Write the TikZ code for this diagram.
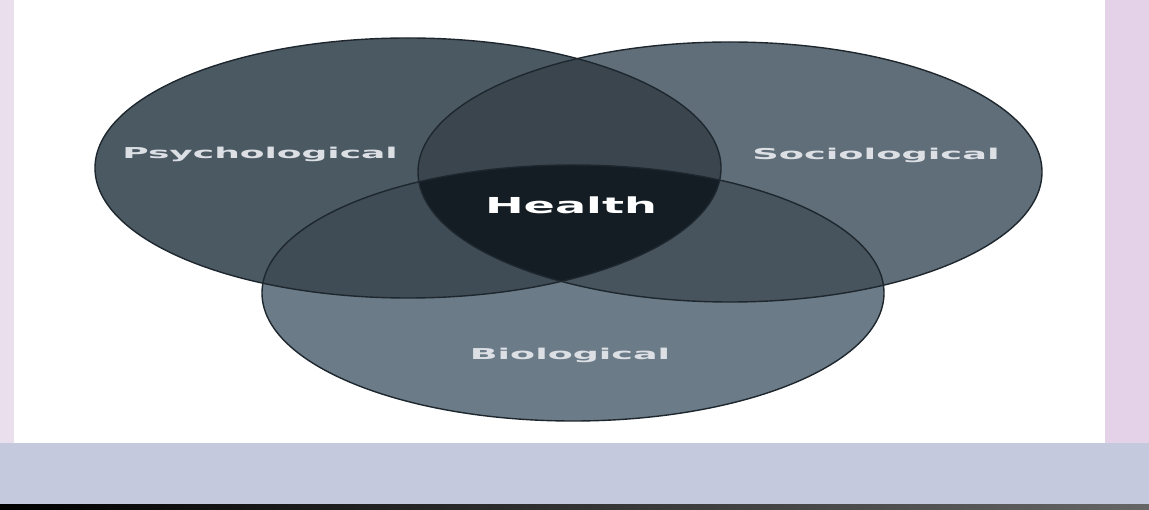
\documentclass[tikz,border=0pt]{standalone}
\usepackage{fontspec}
\setmainfont{DejaVu Sans}
\usepackage{graphicx}
\definecolor{pcol}{HTML}{4B5963}
\definecolor{scol}{HTML}{5F6E79}
\definecolor{bcol}{HTML}{6B7B87}
\definecolor{pscol}{HTML}{3A454E}
\definecolor{pbcol}{HTML}{3F4B55}
\definecolor{sbcol}{HTML}{47535D}
\definecolor{allcol}{HTML}{141D23}
\definecolor{edgecol}{HTML}{1E272E}
\definecolor{txtcol}{HTML}{DCE0E5}
\definecolor{lavright}{HTML}{E4D3E8}
\definecolor{lavleft}{HTML}{EADFEC}
\definecolor{bandcol}{HTML}{C5C9DD}
\tikzset{
  lbl/.style={text=txtcol, font=\bfseries\fontsize{15}{18}\selectfont, inner sep=0pt},
  ring/.style={draw=edgecol, line width=1.4pt}
}
\newcommand\shapeP{(408,168) ellipse [x radius=313, y radius=130]}
\newcommand\shapeS{(730,172) ellipse [x radius=312, y radius=130]}
\newcommand\shapeB{(573,293) ellipse [x radius=311, y radius=128]}
\begin{document}
\begin{tikzpicture}[x=1pt,y=-1pt]
\useasboundingbox (0,0) rectangle (1149,510);
% background frame
\fill[lavright] (0,0) rectangle (1149,510);
\fill[lavleft] (0,0) rectangle (14,443);
\fill[bandcol] (0,443) rectangle (1149,504);
\shade[left color=black, right color=black!60] (0,504) rectangle (1149,510);
\fill[white] (14,0) rectangle (1105,443);
% single sets
\fill[pcol] \shapeP;
\fill[scol] \shapeS;
\fill[bcol] \shapeB;
% pairwise overlaps
\begin{scope}\clip \shapeP; \fill[pscol] \shapeS; \end{scope}
\begin{scope}\clip \shapeP; \fill[pbcol] \shapeB; \end{scope}
\begin{scope}\clip \shapeS; \fill[sbcol] \shapeB; \end{scope}
% triple overlap
\begin{scope}\clip \shapeP; \clip \shapeS; \fill[allcol] \shapeB; \end{scope}
% outlines
\draw[ring] \shapeP;
\draw[ring] \shapeS;
\draw[ring] \shapeB;
% labels
\node[lbl] (psy) at (260,154) {\scalebox{2.4}[1]{Psychological}};
\node[lbl] (soc) at (876,155) {\scalebox{2.45}[1]{Sociological}};
\node[lbl] (bio) at (570,355) {\scalebox{2.43}[1]{Biological}};
\node[lbl, font=\bfseries\fontsize{22}{26}\selectfont, text=white] (hea) at (571,205) {\scalebox{2.1}[1]{Health}};
\end{tikzpicture}
\end{document}
